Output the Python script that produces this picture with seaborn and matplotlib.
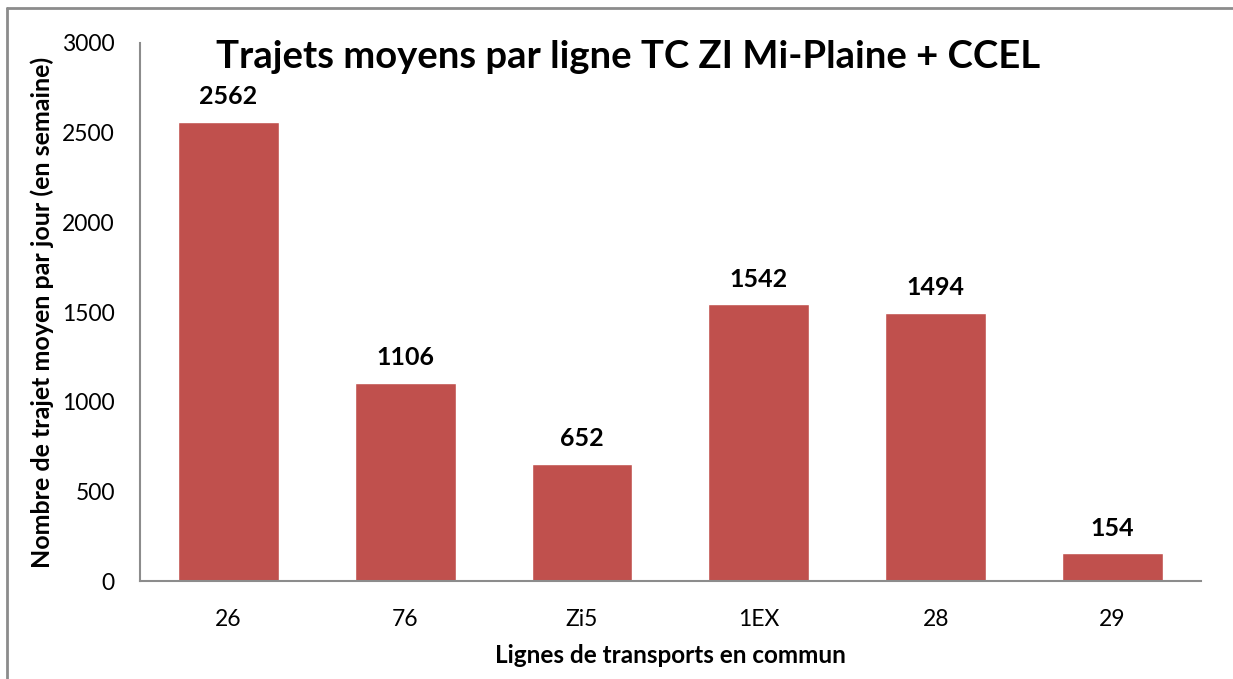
import matplotlib
matplotlib.use("Agg")
import matplotlib.pyplot as plt
import pandas as pd
import seaborn as sns

# ── data ──────────────────────────────────────────────────────────────────────
lignes = ["26", "76", "Zi5", "1EX", "28", "29"]
trajets = [2562, 1106, 652, 1542, 1494, 154]

df = pd.DataFrame({"ligne": lignes, "trajets": trajets})

sns.set_theme(style="white")
plt.rcParams["font.family"] = ["Lato", "DejaVu Sans"]
plt.rcParams.update({"text.color": "black", "axes.labelcolor": "black",
                     "xtick.color": "black", "ytick.color": "black"})

fig = plt.figure(figsize=(12.33, 6.79), dpi=100)
ax = fig.add_axes([0.1135, 0.1443, 0.8605, 0.7924])

sns.barplot(data=df, x="ligne", y="trajets", color="#C0504D", saturation=1,
            width=0.57, ax=ax)

ax.set_ylim(0, 3000)
ax.set_xlim(-0.5, len(lignes) - 0.5)
ax.set_yticks(range(0, 3001, 500))
ax.tick_params(axis="both", length=0, labelsize=16.5, colors="black")
ax.tick_params(axis="x", pad=20)
ax.tick_params(axis="y", pad=18)

for side in ["top", "right"]:
    ax.spines[side].set_visible(False)
for side in ["left", "bottom"]:
    ax.spines[side].set_color("#8C8C8C")
    ax.spines[side].set_linewidth(1.5)

for i, v in enumerate(trajets):
    ax.annotate(str(v), (i, v), xytext=(0, 10), textcoords="offset points",
                ha="center", va="bottom", fontsize=18, fontweight="bold",
                color="black")

ax.set_xlabel("Lignes de transports en commun", fontsize=17.5, fontweight="bold",
              labelpad=10, color="black")
ax.set_ylabel("Nombre de trajet moyen par jour (en semaine)", fontsize=18,
              fontweight="bold", labelpad=6, color="black")

fig.text(0.509, 0.916, "Trajets moyens par ligne TC ZI Mi-Plaine + CCEL",
         ha="center", va="center", fontsize=27.5, fontweight="bold",
         color="black")

# outer chart frame (only top and left visible in the crop)
fig.add_artist(plt.Line2D([0.0057, 0.0057], [0, 0.988], color="#8C8C8C",
                          lw=2, transform=fig.transFigure))
fig.add_artist(plt.Line2D([0.0057, 1], [0.988, 0.988], color="#8C8C8C",
                          lw=2, transform=fig.transFigure))

fig.savefig("out.png", dpi=100)
